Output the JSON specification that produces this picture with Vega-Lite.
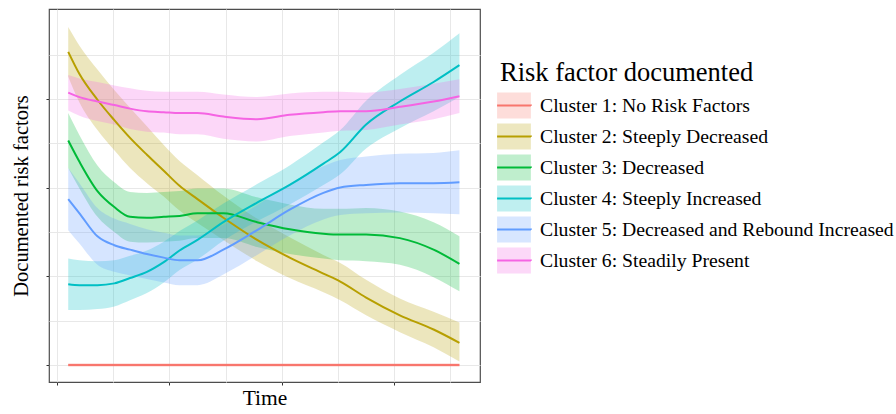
{
  "$schema": "https://vega.github.io/schema/vega-lite/v6.json",
  "width": 431,
  "height": 373,
  "autosize": "none",
  "padding": {"left": 49, "top": 9, "right": 416, "bottom": 32},
  "background": "white",
  "config": {
    "view": {"stroke": "#4d4d4d", "strokeWidth": 1.2},
    "font": "Liberation Serif"
  },
  "data": {
    "values": [
      {"cluster": "Cluster 1: No Risk Factors", "t": 0.10, "y": 0, "lo": -0.02, "hi": 0.02},
      {"cluster": "Cluster 1: No Risk Factors", "t": 0.51, "y": 0, "lo": -0.02, "hi": 0.02},
      {"cluster": "Cluster 1: No Risk Factors", "t": 1.09, "y": 0, "lo": -0.02, "hi": 0.02},
      {"cluster": "Cluster 1: No Risk Factors", "t": 1.78, "y": 0, "lo": -0.02, "hi": 0.02},
      {"cluster": "Cluster 1: No Risk Factors", "t": 2.52, "y": 0, "lo": -0.02, "hi": 0.02},
      {"cluster": "Cluster 1: No Risk Factors", "t": 3.05, "y": 0, "lo": -0.02, "hi": 0.02},
      {"cluster": "Cluster 1: No Risk Factors", "t": 3.58, "y": 0, "lo": -0.02, "hi": 0.02},

      {"cluster": "Cluster 2: Steeply Decreased", "t": 0.10, "y": 3.53, "lo": 3.25, "hi": 3.81},
      {"cluster": "Cluster 2: Steeply Decreased", "t": 0.20, "y": 3.28, "lo": 2.96, "hi": 3.60},
      {"cluster": "Cluster 2: Steeply Decreased", "t": 0.36, "y": 2.99, "lo": 2.65, "hi": 3.33},
      {"cluster": "Cluster 2: Steeply Decreased", "t": 0.51, "y": 2.76, "lo": 2.42, "hi": 3.10},
      {"cluster": "Cluster 2: Steeply Decreased", "t": 0.65, "y": 2.56, "lo": 2.22, "hi": 2.90},
      {"cluster": "Cluster 2: Steeply Decreased", "t": 0.80, "y": 2.37, "lo": 2.05, "hi": 2.69},
      {"cluster": "Cluster 2: Steeply Decreased", "t": 0.95, "y": 2.19, "lo": 1.90, "hi": 2.48},
      {"cluster": "Cluster 2: Steeply Decreased", "t": 1.09, "y": 2.02, "lo": 1.74, "hi": 2.30},
      {"cluster": "Cluster 2: Steeply Decreased", "t": 1.25, "y": 1.87, "lo": 1.60, "hi": 2.14},
      {"cluster": "Cluster 2: Steeply Decreased", "t": 1.48, "y": 1.66, "lo": 1.41, "hi": 1.91},
      {"cluster": "Cluster 2: Steeply Decreased", "t": 1.78, "y": 1.41, "lo": 1.17, "hi": 1.65},
      {"cluster": "Cluster 2: Steeply Decreased", "t": 2.07, "y": 1.21, "lo": 0.98, "hi": 1.44},
      {"cluster": "Cluster 2: Steeply Decreased", "t": 2.37, "y": 1.03, "lo": 0.82, "hi": 1.24},
      {"cluster": "Cluster 2: Steeply Decreased", "t": 2.52, "y": 0.94, "lo": 0.73, "hi": 1.15},
      {"cluster": "Cluster 2: Steeply Decreased", "t": 2.75, "y": 0.76, "lo": 0.56, "hi": 0.96},
      {"cluster": "Cluster 2: Steeply Decreased", "t": 3.05, "y": 0.56, "lo": 0.37, "hi": 0.75},
      {"cluster": "Cluster 2: Steeply Decreased", "t": 3.35, "y": 0.40, "lo": 0.20, "hi": 0.60},
      {"cluster": "Cluster 2: Steeply Decreased", "t": 3.58, "y": 0.25, "lo": 0.04, "hi": 0.48},

      {"cluster": "Cluster 3: Decreased", "t": 0.10, "y": 2.53, "lo": 2.22, "hi": 2.84},
      {"cluster": "Cluster 3: Decreased", "t": 0.20, "y": 2.29, "lo": 1.99, "hi": 2.59},
      {"cluster": "Cluster 3: Decreased", "t": 0.36, "y": 1.96, "lo": 1.67, "hi": 2.25},
      {"cluster": "Cluster 3: Decreased", "t": 0.51, "y": 1.78, "lo": 1.50, "hi": 2.06},
      {"cluster": "Cluster 3: Decreased", "t": 0.65, "y": 1.67, "lo": 1.39, "hi": 1.95},
      {"cluster": "Cluster 3: Decreased", "t": 0.80, "y": 1.66, "lo": 1.38, "hi": 1.94},
      {"cluster": "Cluster 3: Decreased", "t": 0.95, "y": 1.67, "lo": 1.39, "hi": 1.95},
      {"cluster": "Cluster 3: Decreased", "t": 1.09, "y": 1.68, "lo": 1.40, "hi": 1.96},
      {"cluster": "Cluster 3: Decreased", "t": 1.25, "y": 1.71, "lo": 1.43, "hi": 1.99},
      {"cluster": "Cluster 3: Decreased", "t": 1.48, "y": 1.71, "lo": 1.43, "hi": 1.99},
      {"cluster": "Cluster 3: Decreased", "t": 1.78, "y": 1.61, "lo": 1.33, "hi": 1.89},
      {"cluster": "Cluster 3: Decreased", "t": 2.07, "y": 1.53, "lo": 1.25, "hi": 1.81},
      {"cluster": "Cluster 3: Decreased", "t": 2.37, "y": 1.48, "lo": 1.20, "hi": 1.76},
      {"cluster": "Cluster 3: Decreased", "t": 2.52, "y": 1.47, "lo": 1.18, "hi": 1.76},
      {"cluster": "Cluster 3: Decreased", "t": 2.75, "y": 1.47, "lo": 1.17, "hi": 1.77},
      {"cluster": "Cluster 3: Decreased", "t": 3.05, "y": 1.43, "lo": 1.13, "hi": 1.73},
      {"cluster": "Cluster 3: Decreased", "t": 3.35, "y": 1.30, "lo": 0.99, "hi": 1.61},
      {"cluster": "Cluster 3: Decreased", "t": 3.58, "y": 1.14, "lo": 0.83, "hi": 1.45},

      {"cluster": "Cluster 4: Steeply Increased", "t": 0.10, "y": 0.91, "lo": 0.62, "hi": 1.20},
      {"cluster": "Cluster 4: Steeply Increased", "t": 0.20, "y": 0.90, "lo": 0.62, "hi": 1.18},
      {"cluster": "Cluster 4: Steeply Increased", "t": 0.36, "y": 0.90, "lo": 0.63, "hi": 1.17},
      {"cluster": "Cluster 4: Steeply Increased", "t": 0.51, "y": 0.92, "lo": 0.66, "hi": 1.18},
      {"cluster": "Cluster 4: Steeply Increased", "t": 0.65, "y": 0.98, "lo": 0.73, "hi": 1.23},
      {"cluster": "Cluster 4: Steeply Increased", "t": 0.80, "y": 1.05, "lo": 0.81, "hi": 1.29},
      {"cluster": "Cluster 4: Steeply Increased", "t": 0.95, "y": 1.16, "lo": 0.93, "hi": 1.39},
      {"cluster": "Cluster 4: Steeply Increased", "t": 1.09, "y": 1.29, "lo": 1.07, "hi": 1.51},
      {"cluster": "Cluster 4: Steeply Increased", "t": 1.25, "y": 1.41, "lo": 1.19, "hi": 1.63},
      {"cluster": "Cluster 4: Steeply Increased", "t": 1.48, "y": 1.61, "lo": 1.40, "hi": 1.82},
      {"cluster": "Cluster 4: Steeply Increased", "t": 1.78, "y": 1.83, "lo": 1.62, "hi": 2.04},
      {"cluster": "Cluster 4: Steeply Increased", "t": 2.07, "y": 2.03, "lo": 1.81, "hi": 2.25},
      {"cluster": "Cluster 4: Steeply Increased", "t": 2.37, "y": 2.27, "lo": 2.03, "hi": 2.51},
      {"cluster": "Cluster 4: Steeply Increased", "t": 2.52, "y": 2.40, "lo": 2.15, "hi": 2.65},
      {"cluster": "Cluster 4: Steeply Increased", "t": 2.75, "y": 2.71, "lo": 2.44, "hi": 2.98},
      {"cluster": "Cluster 4: Steeply Increased", "t": 3.05, "y": 2.97, "lo": 2.67, "hi": 3.27},
      {"cluster": "Cluster 4: Steeply Increased", "t": 3.35, "y": 3.19, "lo": 2.86, "hi": 3.52},
      {"cluster": "Cluster 4: Steeply Increased", "t": 3.58, "y": 3.38, "lo": 3.02, "hi": 3.74},

      {"cluster": "Cluster 5: Decreased and Rebound Increased", "t": 0.10, "y": 1.87, "lo": 1.52, "hi": 2.22},
      {"cluster": "Cluster 5: Decreased and Rebound Increased", "t": 0.20, "y": 1.71, "lo": 1.37, "hi": 2.05},
      {"cluster": "Cluster 5: Decreased and Rebound Increased", "t": 0.36, "y": 1.45, "lo": 1.13, "hi": 1.77},
      {"cluster": "Cluster 5: Decreased and Rebound Increased", "t": 0.51, "y": 1.35, "lo": 1.05, "hi": 1.65},
      {"cluster": "Cluster 5: Decreased and Rebound Increased", "t": 0.65, "y": 1.30, "lo": 1.01, "hi": 1.59},
      {"cluster": "Cluster 5: Decreased and Rebound Increased", "t": 0.80, "y": 1.25, "lo": 0.97, "hi": 1.53},
      {"cluster": "Cluster 5: Decreased and Rebound Increased", "t": 0.95, "y": 1.21, "lo": 0.93, "hi": 1.49},
      {"cluster": "Cluster 5: Decreased and Rebound Increased", "t": 1.09, "y": 1.18, "lo": 0.90, "hi": 1.46},
      {"cluster": "Cluster 5: Decreased and Rebound Increased", "t": 1.25, "y": 1.18, "lo": 0.90, "hi": 1.46},
      {"cluster": "Cluster 5: Decreased and Rebound Increased", "t": 1.48, "y": 1.30, "lo": 1.02, "hi": 1.58},
      {"cluster": "Cluster 5: Decreased and Rebound Increased", "t": 1.78, "y": 1.52, "lo": 1.24, "hi": 1.80},
      {"cluster": "Cluster 5: Decreased and Rebound Increased", "t": 2.07, "y": 1.75, "lo": 1.46, "hi": 2.04},
      {"cluster": "Cluster 5: Decreased and Rebound Increased", "t": 2.37, "y": 1.94, "lo": 1.64, "hi": 2.24},
      {"cluster": "Cluster 5: Decreased and Rebound Increased", "t": 2.52, "y": 2.00, "lo": 1.69, "hi": 2.31},
      {"cluster": "Cluster 5: Decreased and Rebound Increased", "t": 2.75, "y": 2.03, "lo": 1.71, "hi": 2.35},
      {"cluster": "Cluster 5: Decreased and Rebound Increased", "t": 3.05, "y": 2.05, "lo": 1.72, "hi": 2.38},
      {"cluster": "Cluster 5: Decreased and Rebound Increased", "t": 3.35, "y": 2.05, "lo": 1.71, "hi": 2.39},
      {"cluster": "Cluster 5: Decreased and Rebound Increased", "t": 3.58, "y": 2.06, "lo": 1.70, "hi": 2.42},

      {"cluster": "Cluster 6: Steadily Present", "t": 0.10, "y": 3.07, "lo": 2.87, "hi": 3.27},
      {"cluster": "Cluster 6: Steadily Present", "t": 0.20, "y": 3.02, "lo": 2.81, "hi": 3.23},
      {"cluster": "Cluster 6: Steadily Present", "t": 0.36, "y": 2.97, "lo": 2.75, "hi": 3.19},
      {"cluster": "Cluster 6: Steadily Present", "t": 0.51, "y": 2.93, "lo": 2.71, "hi": 3.15},
      {"cluster": "Cluster 6: Steadily Present", "t": 0.65, "y": 2.89, "lo": 2.66, "hi": 3.12},
      {"cluster": "Cluster 6: Steadily Present", "t": 0.80, "y": 2.86, "lo": 2.63, "hi": 3.09},
      {"cluster": "Cluster 6: Steadily Present", "t": 0.95, "y": 2.85, "lo": 2.62, "hi": 3.08},
      {"cluster": "Cluster 6: Steadily Present", "t": 1.09, "y": 2.84, "lo": 2.60, "hi": 3.08},
      {"cluster": "Cluster 6: Steadily Present", "t": 1.25, "y": 2.84, "lo": 2.60, "hi": 3.08},
      {"cluster": "Cluster 6: Steadily Present", "t": 1.48, "y": 2.80, "lo": 2.55, "hi": 3.05},
      {"cluster": "Cluster 6: Steadily Present", "t": 1.78, "y": 2.77, "lo": 2.52, "hi": 3.02},
      {"cluster": "Cluster 6: Steadily Present", "t": 2.07, "y": 2.82, "lo": 2.58, "hi": 3.06},
      {"cluster": "Cluster 6: Steadily Present", "t": 2.37, "y": 2.85, "lo": 2.62, "hi": 3.08},
      {"cluster": "Cluster 6: Steadily Present", "t": 2.52, "y": 2.86, "lo": 2.64, "hi": 3.08},
      {"cluster": "Cluster 6: Steadily Present", "t": 2.75, "y": 2.86, "lo": 2.65, "hi": 3.07},
      {"cluster": "Cluster 6: Steadily Present", "t": 3.05, "y": 2.91, "lo": 2.71, "hi": 3.11},
      {"cluster": "Cluster 6: Steadily Present", "t": 3.35, "y": 2.97, "lo": 2.77, "hi": 3.17},
      {"cluster": "Cluster 6: Steadily Present", "t": 3.58, "y": 3.03, "lo": 2.84, "hi": 3.22}
    ]
  },
  "encoding": {
    "x": {
      "field": "t", "type": "quantitative",
      "scale": {"domain": [-0.071, 3.763], "nice": false, "zero": false},
      "axis": {
        "values": [0, 0.5, 1, 1.5, 2, 2.5, 3, 3.5],
        "labels": false, "domain": false,
        "title": "Time", "titleFont": "Liberation Serif", "titleFontSize": 21.5,
        "titleFontWeight": "normal", "titleColor": "black", "titlePadding": 2,
        "tickSize": 3, "tickColor": "#333333",
        "tickOpacity": {"condition": {"test": "datum.value % 1 === 0", "value": 1}, "value": 0},
        "gridColor": "#e8e8e8", "gridWidth": 1
      }
    },
    "color": {
      "field": "cluster", "type": "nominal",
      "scale": {
        "domain": ["Cluster 1: No Risk Factors", "Cluster 2: Steeply Decreased", "Cluster 3: Decreased", "Cluster 4: Steeply Increased", "Cluster 5: Decreased and Rebound Increased", "Cluster 6: Steadily Present"],
        "range": ["#F8766D", "#B79F00", "#00BA38", "#00BFC4", "#619CFF", "#F564E3"]
      },
      "legend": {
        "title": "Risk factor documented",
        "orient": "none", "legendX": 451, "legendY": 51,
        "padding": 0,
        "titleFont": "Liberation Serif", "titleFontSize": 26.5, "titleFontWeight": "normal",
        "titleColor": "black", "titlePadding": 5, "titleLimit": 400,
        "labelFont": "Liberation Serif", "labelFontSize": 19.7, "labelColor": "black",
        "labelLimit": 420, "labelOffset": 12,
        "symbolType": "M-1.3,0H1.3V1H-1.3V-1H1.3V0Z",
        "symbolSize": 676, "symbolStrokeWidth": 2, "symbolDash": [34, 2000],
        "symbolStrokeColor": "black",
        "rowPadding": -6.2,
        "encode": {
          "symbols": {
            "update": {
              "fill": {"scale": "color", "field": "value"},
              "stroke": {"scale": "color", "field": "value"},
              "fillOpacity": {"value": 0.25},
              "strokeOpacity": {"value": 1},
              "strokeWidth": {"value": 2},
              "strokeDash": {"value": [34, 2000]},
              "opacity": {"value": 1}
            }
          }
        }
      }
    }
  },
  "layer": [
    {
      "mark": {"type": "area", "opacity": 0.26, "interpolate": "monotone"},
      "encoding": {
        "y": {
          "field": "lo", "type": "quantitative",
          "scale": {"domain": [-0.192, 4.013], "nice": false, "zero": false},
          "axis": {
            "values": [0, 0.5, 1, 1.5, 2, 2.5, 3, 3.5],
            "labels": false, "domain": false,
            "title": "Documented risk factors", "titleFont": "Liberation Serif", "titleFontSize": 20.5,
            "titleFontWeight": "normal", "titleColor": "black", "titlePadding": 14,
            "tickSize": 3, "tickColor": "#333333",
            "tickOpacity": {"condition": {"test": "datum.value % 1 === 0", "value": 1}, "value": 0},
            "gridColor": "#e8e8e8", "gridWidth": 1
          }
        },
        "y2": {"field": "hi"}
      }
    },
    {
      "mark": {"type": "line", "strokeWidth": 2, "interpolate": "monotone"},
      "encoding": {
        "y": {"field": "y", "type": "quantitative"}
      }
    }
  ]
}
